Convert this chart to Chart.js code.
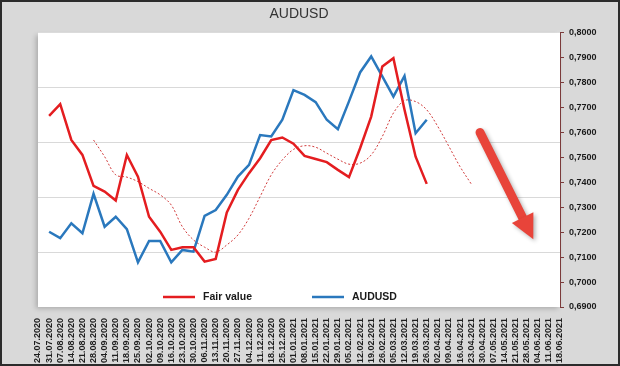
<!DOCTYPE html>
<html>
<head>
<meta charset="utf-8">
<script src="https://cdn.jsdelivr.net/npm/chart.js@4.4.1/dist/chart.umd.min.js"></script>
<style>
  body { margin: 0; background: #d9d9d9; }
  canvas { display: block; }
</style>
</head>
<body>
<canvas id="audusd-chart" width="620" height="366"></canvas>
<script>
var labels = [
  '24.07.2020', '31.07.2020', '07.08.2020', '14.08.2020', '21.08.2020', '28.08.2020',
  '04.09.2020', '11.09.2020', '18.09.2020', '25.09.2020', '02.10.2020', '09.10.2020',
  '16.10.2020', '23.10.2020', '30.10.2020', '06.11.2020', '13.11.2020', '20.11.2020',
  '27.11.2020', '04.12.2020', '11.12.2020', '18.12.2020', '25.12.2020', '01.01.2021',
  '08.01.2021', '15.01.2021', '22.01.2021', '29.01.2021', '05.02.2021', '12.02.2021',
  '19.02.2021', '26.02.2021', '05.03.2021', '12.03.2021', '19.03.2021', '26.03.2021',
  '02.04.2021', '09.04.2021', '16.04.2021', '23.04.2021', '30.04.2021', '07.05.2021',
  '14.05.2021', '21.05.2021', '28.05.2021', '04.06.2021', '11.06.2021', '18.06.2021'
];

var fairValue = [
  null, 0.7667, 0.7714, 0.7570, 0.7510, 0.7386, 0.7363, 0.7327, 0.7510, 0.7423,
  0.7262, 0.7202, 0.7129, 0.7140, 0.7140, 0.7082, 0.7093, 0.7279, 0.7370, 0.7437,
  0.7497, 0.7570, 0.7580, 0.7555, 0.7506, 0.7494, 0.7481, 0.7450, 0.7421, 0.7537,
  0.7664, 0.7865, 0.7898, 0.7691, 0.7503, 0.7394
];

var audusd = [
  null, 0.7202, 0.7176, 0.7236, 0.7196, 0.7354, 0.7222, 0.7262, 0.7212, 0.7079,
  0.7165, 0.7165, 0.7079, 0.7129, 0.7122, 0.7266, 0.7289, 0.7350, 0.7423, 0.7470,
  0.7590, 0.7584, 0.7651, 0.7770, 0.7751, 0.7722, 0.7651, 0.7613, 0.7725, 0.7841,
  0.7905, 0.7825, 0.7744, 0.7827, 0.7597, 0.7651
];

// smoothed fair value (dotted, no legend entry)
var fairValueAvg = [
  null, null, null, null, null, 0.7570, 0.7503, 0.7430, 0.7421, 0.7403,
  0.7376, 0.7350, 0.7309, 0.7222, 0.7169, 0.7140, 0.7120, 0.7149, 0.7189, 0.7256,
  0.7343, 0.7430, 0.7490, 0.7532, 0.7547, 0.7541, 0.7517, 0.7493, 0.7473, 0.7477,
  0.7510, 0.7584, 0.7678, 0.7728, 0.7724, 0.7691, 0.7624, 0.7544, 0.7463, 0.7394
];

var yMin = 0.69, yMax = 0.80, yStep = 0.01;

// arrow annotation, in data units (category index, value)
var arrowFrom = [39.8, 0.7600];
var arrowTo = [44.6, 0.7172];

var axisFont = 'Liberation Sans, Arial, sans-serif';

var backgroundPlugin = {
  id: 'background',
  beforeDraw: function(chart) {
    var c = chart.ctx, a = chart.chartArea;
    c.save();
    c.fillStyle = '#d9d9d9';
    c.fillRect(0, 0, chart.width, chart.height);
    c.shadowColor = 'rgba(0,0,0,0.22)';
    c.shadowBlur = 5;
    c.shadowOffsetX = -2;
    c.shadowOffsetY = 2;
    c.fillStyle = '#ffffff';
    c.fillRect(a.left, a.top, a.right - a.left, a.bottom - a.top);
    c.restore();
    c.save();
    c.strokeStyle = '#2b2b2b';
    c.lineWidth = 2;
    c.strokeRect(1, 1, chart.width - 2, chart.height - 2);
    c.restore();
  }
};

var arrowPlugin = {
  id: 'arrow',
  afterDatasetsDraw: function(chart) {
    var c = chart.ctx, xs = chart.scales.x, ys = chart.scales.y;
    var x1 = xs.getPixelForValue(arrowFrom[0]), y1 = ys.getPixelForValue(arrowFrom[1]);
    var x2 = xs.getPixelForValue(arrowTo[0]), y2 = ys.getPixelForValue(arrowTo[1]);
    var ang = Math.atan2(y2 - y1, x2 - x1);
    var headLen = 24, headHalf = 12;
    var bx = x2 - headLen * Math.cos(ang), by = y2 - headLen * Math.sin(ang);
    c.save();
    c.shadowColor = 'rgba(0,0,0,0.3)';
    c.shadowBlur = 4;
    c.shadowOffsetX = 2;
    c.shadowOffsetY = 2;
    c.strokeStyle = '#e8443a';
    c.fillStyle = '#e8443a';
    c.lineWidth = 9;
    c.lineCap = 'round';
    c.beginPath();
    c.moveTo(x1, y1);
    c.lineTo(bx + 2 * Math.cos(ang), by + 2 * Math.sin(ang));
    c.stroke();
    c.beginPath();
    c.moveTo(x2, y2);
    c.lineTo(bx + headHalf * Math.sin(ang), by - headHalf * Math.cos(ang));
    c.lineTo(bx - headHalf * Math.sin(ang), by + headHalf * Math.cos(ang));
    c.closePath();
    c.fill();
    c.restore();
  }
};

var legendPlugin = {
  id: 'bottomLegend',
  afterDatasetsDraw: function(chart) {
    var c = chart.ctx, a = chart.chartArea;
    var y = a.bottom - 10;
    var spots = [a.left + 125, a.left + 274];
    c.save();
    c.font = 'bold 10.5px ' + axisFont;
    c.textBaseline = 'middle';
    for (var i = 0; i < 2; i++) {
      var ds = chart.data.datasets[i];
      c.strokeStyle = ds.borderColor;
      c.lineWidth = 2.5;
      c.beginPath();
      c.moveTo(spots[i], y);
      c.lineTo(spots[i] + 32, y);
      c.stroke();
      c.fillStyle = '#1a1a1a';
      c.fillText(ds.label, spots[i] + 40, y);
    }
    c.restore();
  }
};

var ctx = document.getElementById('audusd-chart').getContext('2d');
var myChart = new Chart(ctx, {
  type: 'line',
  data: {
    labels: labels,
    datasets: [{
      label: 'Fair value',
      data: fairValue,
      borderColor: '#e41d20',
      borderWidth: 2.5,
      pointRadius: 0,
      yAxisID: 'y'
    }, {
      label: 'AUDUSD',
      data: audusd,
      borderColor: '#2a78bd',
      borderWidth: 2.5,
      pointRadius: 0,
      yAxisID: 'y'
    }, {
      label: 'Fair value avg',
      data: fairValueAvg,
      borderColor: '#d23c3c',
      borderWidth: 1,
      borderDash: [2, 2],
      pointRadius: 0,
      tension: 0.35,
      yAxisID: 'y'
    }]
  },
  options: {
    responsive: false,
    animation: false,
    devicePixelRatio: 1,
    layout: { padding: { left: 38, right: 0, top: 0, bottom: 0 } },
    plugins: {
      legend: { display: false },
      tooltip: { enabled: false },
      title: {
        display: true,
        text: 'AUDUSD',
        fullSize: false,
        color: '#333333',
        font: { family: axisFont, size: 14, weight: 'normal' },
        padding: { top: 6, bottom: 10 }
      }
    },
    scales: {
      x: {
        offset: false,
        grid: { display: false },
        border: { display: false },
        ticks: {
          autoSkip: false,
          maxRotation: 90,
          minRotation: 90,
          padding: 3,
          color: '#1f1f1f',
          font: { family: axisFont, size: 9, weight: 'bold' }
        },
        afterFit: function(scale) { scale.height = 59; }
      },
      y: {
        position: 'right',
        min: yMin,
        max: yMax,
        ticks: {
          stepSize: yStep,
          padding: 5,
          color: '#1a1a1a',
          font: { family: axisFont, size: 9, weight: 'bold' },
          callback: function(v) { return v.toFixed(4).replace('.', ','); }
        },
        grid: { drawOnChartArea: false, tickLength: 4, color: '#7b3b3b' },
        border: { color: '#7b3b3b', width: 1 },
        afterFit: function(scale) { scale.width = 60; }
      },
      yg: {
        position: 'left',
        min: 0,
        max: 5,
        ticks: { display: false, stepSize: 1 },
        grid: {
          drawTicks: false,
          color: function(c) {
            return (c.tick.value === 0 || c.tick.value === 5) ? 'rgba(0,0,0,0)' : '#d9d9d9';
          }
        },
        border: { display: false },
        afterFit: function(scale) { scale.width = 0; }
      }
    }
  },
  plugins: [backgroundPlugin, arrowPlugin, legendPlugin]
});
</script>
</body>
</html>
